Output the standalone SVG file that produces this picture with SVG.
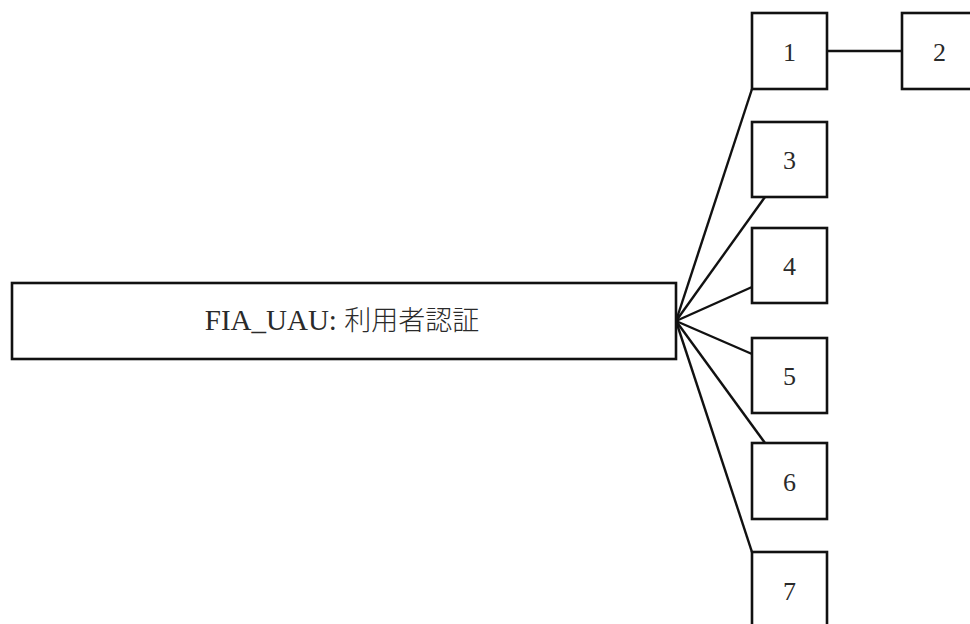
<svg xmlns="http://www.w3.org/2000/svg" width="970" height="624" viewBox="0 0 970 624">
  <style>
    .box { fill: #ffffff; stroke: #111111; stroke-width: 2.6; }
    .conn { stroke: #111111; stroke-width: 2.4; fill: none; }
    .num { font-family: "Liberation Serif", "Times New Roman", serif; font-size: 26px; fill: #2a2a2a; text-anchor: middle; }
    .main { font-family: "Liberation Serif", "Times New Roman", "Noto Sans CJK JP", serif; font-size: 29px; fill: #2a2a2a; text-anchor: middle; }
    .cjk { font-family: "Noto Sans CJK JP", sans-serif; font-size: 27px; font-weight: 300; }
  </style>
  <rect width="970" height="624" fill="#ffffff"/>
  <g id="connectors">
    <line class="conn" x1="676" y1="321" x2="752" y2="89"/>
    <line class="conn" x1="676" y1="321" x2="765" y2="197"/>
    <line class="conn" x1="676" y1="321" x2="752" y2="287"/>
    <line class="conn" x1="676" y1="321" x2="752" y2="354"/>
    <line class="conn" x1="676" y1="321" x2="765" y2="443"/>
    <line class="conn" x1="676" y1="321" x2="752" y2="552"/>
    <line class="conn" x1="827" y1="51" x2="902" y2="51"/>
  </g>
  <g id="node-main">
    <rect class="box" x="12" y="283" width="664" height="76"/>
    <text class="main" x="342" y="330">FIA_UAU: <tspan class="cjk">利用者認証</tspan></text>
  </g>
  <g id="node-1">
    <rect class="box" x="752" y="13" width="75" height="76"/>
    <text class="num" x="789.5" y="60.5">1</text>
  </g>
  <g id="node-2">
    <rect class="box" x="902" y="13" width="75" height="76"/>
    <text class="num" x="939.5" y="60.5">2</text>
  </g>
  <g id="node-3">
    <rect class="box" x="752" y="122" width="75" height="75"/>
    <text class="num" x="789.5" y="169">3</text>
  </g>
  <g id="node-4">
    <rect class="box" x="752" y="228" width="75" height="75"/>
    <text class="num" x="789.5" y="275">4</text>
  </g>
  <g id="node-5">
    <rect class="box" x="752" y="338" width="75" height="75"/>
    <text class="num" x="789.5" y="385">5</text>
  </g>
  <g id="node-6">
    <rect class="box" x="752" y="443" width="75" height="76"/>
    <text class="num" x="789.5" y="490.5">6</text>
  </g>
  <g id="node-7">
    <rect class="box" x="752" y="552" width="75" height="76"/>
    <text class="num" x="789.5" y="599.5">7</text>
  </g>
</svg>
